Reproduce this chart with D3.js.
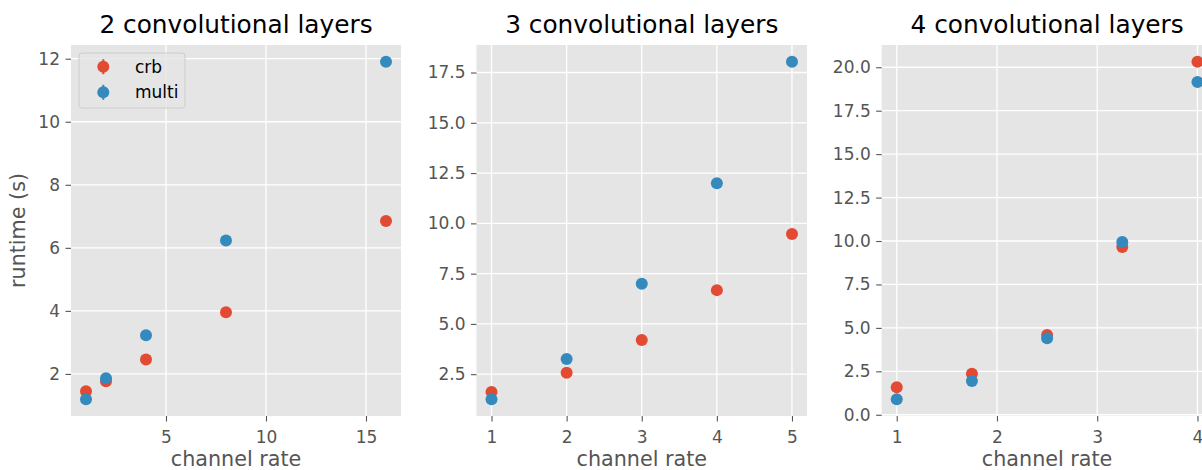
<!DOCTYPE html>
<html>
<head>
<meta charset="utf-8">
<script src="https://cdn.jsdelivr.net/npm/d3@7"></script>
<style>
  html, body { margin: 0; padding: 0; background: #fff; }
  svg { display: block; font-family: "DejaVu Sans", sans-serif; }
</style>
</head>
<body>
<svg id="chart" width="1202" height="470"></svg>
<script>
// ---- data ----
const panelTitles = ["2 convolutional layers", "3 convolutional layers", "4 convolutional layers"];
const seriesNames = ["crb", "multi"];
const seriesColors = ["#E24A33", "#348ABD"];

const xValues1 = [1, 2, 4, 8, 16];
const crb1 = [1.45, 1.77, 2.46, 3.96, 6.85];
const multi1 = [1.20, 1.86, 3.23, 6.23, 11.90];

const xValues2 = [1, 2, 3, 4, 5];
const crb2 = [1.61, 2.57, 4.20, 6.68, 9.47];
const multi2 = [1.26, 3.26, 7.00, 11.99, 18.03];

const xValues3 = [1, 1.75, 2.5, 3.25, 4];
const crb3 = [1.58, 2.36, 4.59, 9.65, 20.31];
const multi3 = [0.90, 1.95, 4.40, 9.94, 19.15];

const xTicks1 = [5, 10, 15];
const yTicks1 = [2, 4, 6, 8, 10, 12];
const xTicks2 = [1, 2, 3, 4, 5];
const yTicks2 = [2.5, 5.0, 7.5, 10.0, 12.5, 15.0, 17.5];
const xTicks3 = [1, 2, 3, 4];
const yTicks3 = [0.0, 2.5, 5.0, 7.5, 10.0, 12.5, 15.0, 17.5, 20.0];

const xLabel = "channel rate";
const yLabel = "runtime (s)";

// ---- layout ----
const panels = [
  { title: panelTitles[0], x: xValues1, series: [crb1, multi1], xTicks: xTicks1, yTicks: yTicks1, yFmt: d3.format("d"), left: 71, right: 401 },
  { title: panelTitles[1], x: xValues2, series: [crb2, multi2], xTicks: xTicks2, yTicks: yTicks2, yFmt: d3.format(".1f"), left: 476.5, right: 807 },
  { title: panelTitles[2], x: xValues3, series: [crb3, multi3], xTicks: xTicks3, yTicks: yTicks3, yFmt: d3.format(".1f"), left: 881.7, right: 1212.5 }
];
const plotTop = 45, plotBottom = 416;
const svg = d3.select("#chart");

function padded(ext) {
  const m = (ext[1] - ext[0]) * 0.05;
  return [ext[0] - m, ext[1] + m];
}

panels.forEach((p, i) => {
  const allY = p.series.flat();
  const x = d3.scaleLinear().domain(padded(d3.extent(p.x))).range([p.left, p.right]);
  const y = d3.scaleLinear().domain(padded(d3.extent(allY))).range([plotBottom, plotTop]);
  const g = svg.append("g");

  g.append("rect").attr("x", p.left).attr("y", plotTop)
    .attr("width", p.right - p.left).attr("height", plotBottom - plotTop)
    .attr("fill", "#E5E5E5");

  // grid
  g.selectAll(".gx").data(p.xTicks).enter().append("line")
    .attr("x1", d => x(d)).attr("x2", d => x(d)).attr("y1", plotTop).attr("y2", plotBottom)
    .attr("stroke", "#fff").attr("stroke-width", 1.3);
  g.selectAll(".gy").data(p.yTicks).enter().append("line")
    .attr("x1", p.left).attr("x2", p.right).attr("y1", d => y(d)).attr("y2", d => y(d))
    .attr("stroke", "#fff").attr("stroke-width", 1.3);

  // axes
  const xa = g.append("g").attr("transform", `translate(0,${plotBottom})`)
    .call(d3.axisBottom(x).tickValues(p.xTicks).tickSize(5.5).tickPadding(9).tickFormat(d3.format("d")));
  const ya = g.append("g").attr("transform", `translate(${p.left},0)`)
    .call(d3.axisLeft(y).tickValues(p.yTicks).tickSize(5.5).tickPadding(5.5).tickFormat(p.yFmt));
  [xa, ya].forEach(a => {
    a.select(".domain").remove();
    a.selectAll(".tick line").attr("stroke", "#555").attr("stroke-width", 1.1);
    a.selectAll(".tick text").attr("fill", "#555").attr("font-size", 17)
      .attr("font-family", "DejaVu Sans, sans-serif");
  });

  // points
  p.series.forEach((vals, si) => {
    g.selectAll(".pt" + si).data(vals).enter().append("circle")
      .attr("cx", (d, k) => x(p.x[k])).attr("cy", d => y(d)).attr("r", 6)
      .attr("fill", seriesColors[si]);
  });

  // title
  svg.append("text").attr("x", (p.left + p.right) / 2).attr("y", 33)
    .attr("text-anchor", "middle").attr("font-size", 24.8).attr("fill", "#000")
    .text(p.title);
  // x label
  svg.append("text").attr("x", (p.left + p.right) / 2).attr("y", 466)
    .attr("text-anchor", "middle").attr("font-size", 20.7).attr("fill", "#555")
    .text(xLabel);

  if (i === 0) {
    svg.append("text").attr("transform", `translate(25,${(plotTop + plotBottom) / 2}) rotate(-90)`)
      .attr("text-anchor", "middle").attr("font-size", 20.7).attr("fill", "#555")
      .text(yLabel);

    // legend
    const lg = svg.append("g");
    lg.append("rect").attr("x", 79).attr("y", 53).attr("width", 106).attr("height", 55)
      .attr("rx", 3).attr("fill", "#E5E5E5").attr("fill-opacity", 0.8)
      .attr("stroke", "#CCCCCC").attr("stroke-width", 1);
    seriesNames.forEach((name, si) => {
      const cy = 66.7 + si * 25.6;
      lg.append("line").attr("x1", 103.3).attr("x2", 103.3).attr("y1", cy - 7.5).attr("y2", cy + 7.5)
        .attr("stroke", seriesColors[si]).attr("stroke-width", 2);
      lg.append("circle").attr("cx", 103.3).attr("cy", cy).attr("r", 6).attr("fill", seriesColors[si]);
      lg.append("text").attr("x", 135).attr("y", cy + 6).attr("font-size", 17).attr("fill", "#000")
        .text(name);
    });
  }
});
</script>
</body>
</html>
